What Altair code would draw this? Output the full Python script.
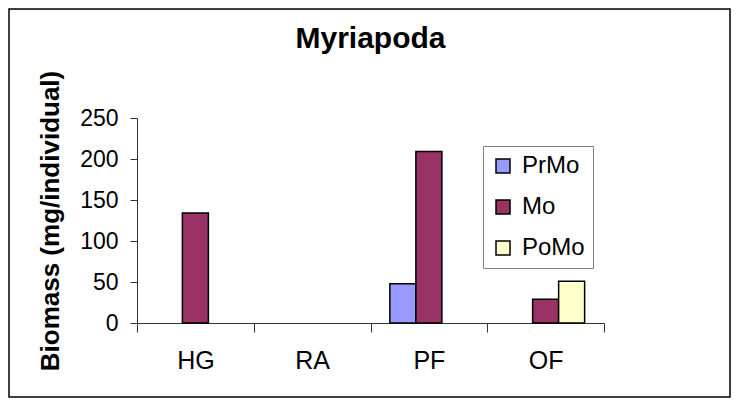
import altair as alt
import pandas as pd

sites = ["HG", "RA", "PF", "OF"]
periods = ["PrMo", "Mo", "PoMo"]
prmo = [None, None, 48, None]
mo = [134, None, 209, 29]
pomo = [None, None, None, 51]
colors = ["#9999FF", "#993366", "#FFFFCC"]
y_ticks = [0, 50, 100, 150, 200, 250]

rows = []
for i, s in enumerate(sites):
    for p, vals in zip(periods, [prmo, mo, pomo]):
        if vals[i] is not None:
            rows.append({"site": s, "period": p, "biomass": vals[i]})
df = pd.DataFrame(rows)

FONT = "Liberation Sans"

bars = alt.Chart(df).mark_bar(stroke="black", strokeWidth=1.5).encode(
    x=alt.X("site:N", sort=sites,
            scale=alt.Scale(domain=sites, paddingInner=0, paddingOuter=0),
            axis=alt.Axis(title=None, labelAngle=0, tickBand="extent",
                          tickSize=9, labelPadding=16, labelFontSize=25,
                          labelFont=FONT, labelColor="black",
                          domainColor="#333333", tickColor="#333333",
                          domainWidth=1, tickWidth=1)),
    xOffset=alt.XOffset("period:N", sort=periods,
                        scale=alt.Scale(domain=periods, paddingInner=0, paddingOuter=0.745)),
    y=alt.Y("biomass:Q", scale=alt.Scale(domain=[0, 250], nice=False),
            axis=alt.Axis(values=y_ticks, title="Biomass (mg/individual)",
                          titleFont=FONT, titleFontSize=26, titleFontWeight="bold",
                          titleColor="black", titlePadding=16,
                          grid=False, tickSize=7, labelPadding=12, labelFontSize=23,
                          labelFont=FONT, labelColor="black",
                          domainColor="#333333", tickColor="#333333",
                          domainWidth=1, tickWidth=1)),
    color=alt.Color("period:N", sort=periods,
                    scale=alt.Scale(domain=periods, range=colors),
                    legend=alt.Legend(title=None, orient="none", legendX=346, legendY=28,
                                      symbolType="square", symbolSize=196,
                                      symbolStrokeColor="black", symbolStrokeWidth=1.5,
                                      labelFont=FONT, labelFontSize=24, labelColor="black",
                                      labelOffset=7, rowPadding=17, padding=8,
                                      strokeColor="#808080", fillColor="white")),
)

frame = alt.Chart(pd.DataFrame({"a": [0]})).mark_rect(
    fillOpacity=0, stroke="black", strokeWidth=1.5
).encode(
    x=alt.value(-128), x2=alt.value(593), y=alt.value(-109), y2=alt.value(279)
)

chart = alt.layer(frame, bars).properties(
    width=467, height=205,
    title=alt.TitleParams("Myriapoda", font=FONT, fontSize=30, fontWeight="bold",
                          color="black", anchor="middle", offset=-46),
    autosize=alt.AutoSizeParams(type="none"),
    padding={"left": 129, "top": 110, "right": 127, "bottom": 75},
).configure_view(stroke=None)

chart.save("out.html", embed_options={"renderer": "svg", "actions": False})
